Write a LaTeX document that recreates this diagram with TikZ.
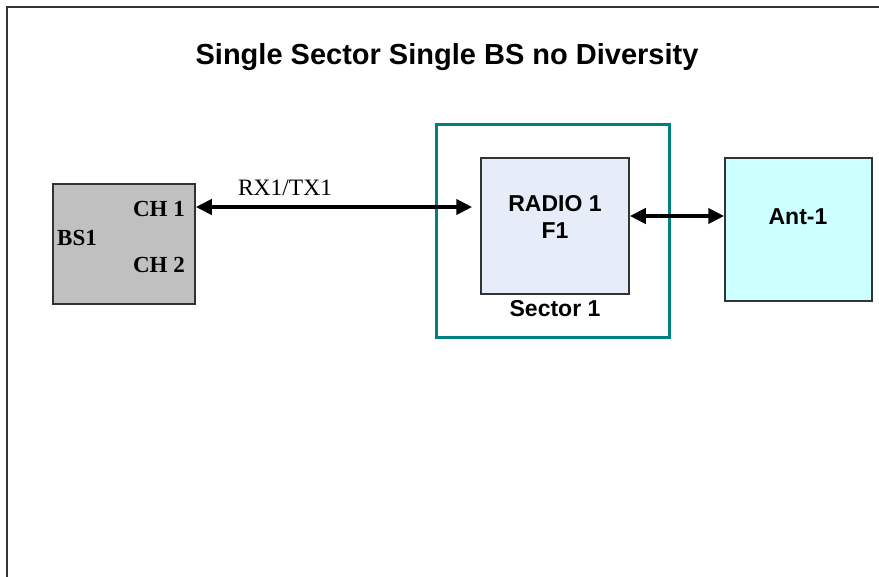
\documentclass[tikz,border=0pt]{standalone}
\usepackage{fontspec}
\setmainfont{Liberation Serif}
\newfontfamily\arialfont{Liberation Sans}
\usetikzlibrary{arrows.meta}
\definecolor{boxgray}{HTML}{C0C0C0}
\definecolor{edgegray}{HTML}{333333}
\definecolor{tealedge}{HTML}{008080}
\definecolor{radiofill}{HTML}{E6ECF8}
\definecolor{antfill}{HTML}{CCFFFF}
\tikzset{
  box/.style={draw=edgegray, line width=1.5pt, inner sep=0pt},
  sanslabel/.style={font=\arialfont\bfseries\fontsize{23}{25}\selectfont, inner sep=0pt},
  seriflabel/.style={font=\bfseries\fontsize{23}{25}\selectfont, inner sep=0pt},
  biarrow/.style={line width=4.5pt, {Triangle[length=16pt,width=15pt]}-{Triangle[length=16pt,width=15pt]}},
}
\begin{document}
\begin{tikzpicture}[x=1pt,y=-1pt]
\useasboundingbox (0,0) rectangle (879,577);
\fill[white] (0,0) rectangle (879,577);
% frame
\draw[edgegray, line width=2pt] (7,577) -- (7,7) -- (879,7);
% title
\node[font=\arialfont\bfseries\fontsize{29}{31}\selectfont, inner sep=0pt] (title) at (447,57) {Single Sector Single BS no Diversity};
% BS box
\node[box, fill=boxgray, minimum width=142pt, minimum height=120pt] (bs) at (124,244) {};
\node[seriflabel, anchor=east] (ch1) at (185,209) {CH 1};
\node[seriflabel, anchor=east] (ch2) at (185,265) {CH 2};
\node[seriflabel, anchor=west] (bslabel) at (57,238) {BS1};
% sector box
\node[draw=tealedge, line width=3pt, minimum width=233pt, minimum height=213pt, inner sep=0pt] (sector) at (552.5,231.5) {};
\node[box, fill=radiofill, minimum width=148pt, minimum height=136pt] (radio) at (555,226) {};
\node[sanslabel] (radiolabel) at (555,204) {RADIO 1};
\node[sanslabel] (f1) at (555,231) {F1};
\node[sanslabel] (sectorlabel) at (555,309) {Sector 1};
% antenna
\node[box, fill=antfill, minimum width=147pt, minimum height=143pt] (ant) at (798.5,229.5) {};
\node[sanslabel] (antlabel) at (798,217) {Ant-1};
% connectors
\coordinate (y1) at (0,207);
\coordinate (y2) at (0,216);
\draw[biarrow, shorten >=8pt] (bs.east |- y1) -- (radio.west |- y1);
\node[font=\fontsize{23.5}{25}\selectfont, inner sep=0pt] (rxtx) at (285,188) {RX1/TX1};
\draw[biarrow] (radio.east |- y2) -- (ant.west |- y2);
\end{tikzpicture}
\end{document}
